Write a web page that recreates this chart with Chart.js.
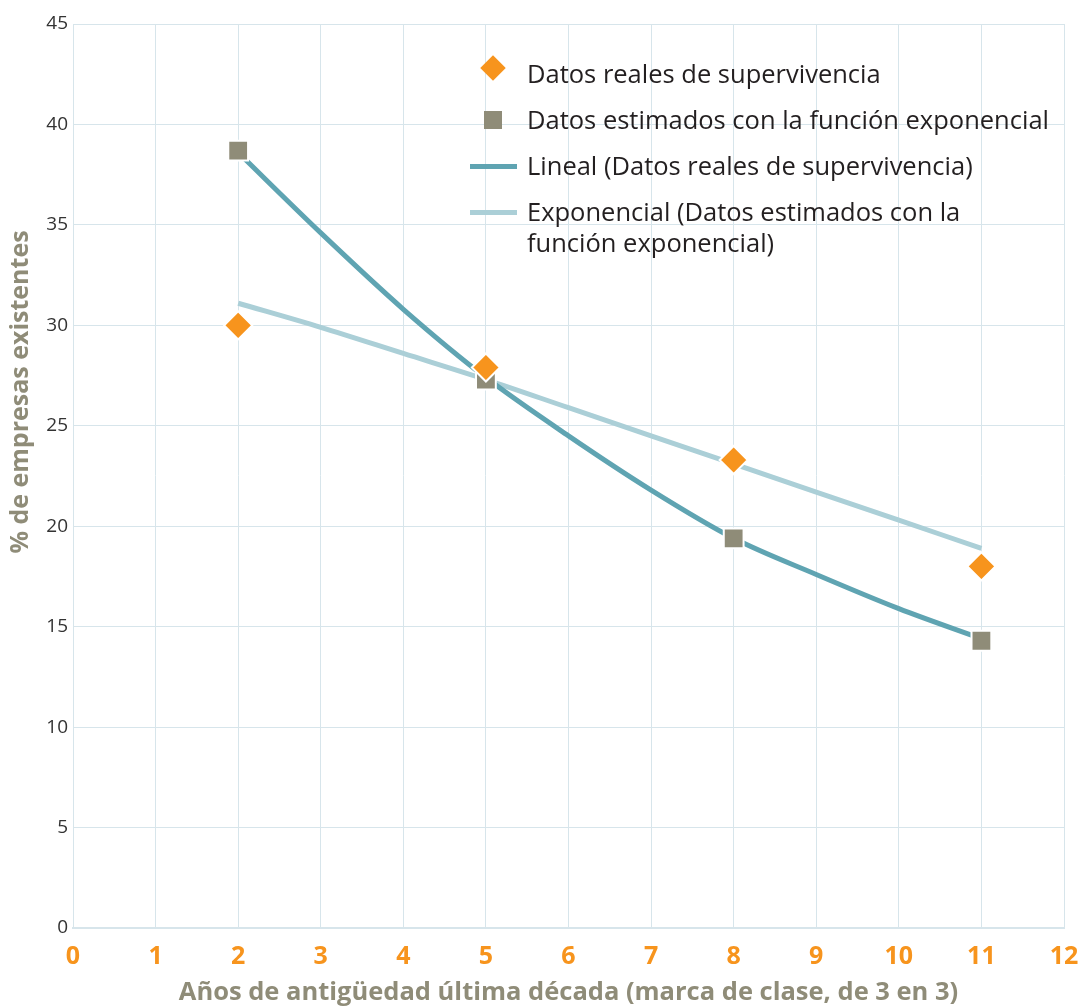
<!DOCTYPE html>
<html lang="es">
<head>
<meta charset="utf-8">
<title>Supervivencia de empresas</title>
<script src="https://cdn.jsdelivr.net/npm/chart.js@4.4.1/dist/chart.umd.min.js"></script>
<style>
  html, body { margin: 0; padding: 0; background: #fff; }
  #wrap { position: relative; width: 1082px; height: 1008px; }
  #legend {
    position: absolute; left: 466px; top: 58px;
    font-family: "Open Sans", Lato, sans-serif; font-size: 25.5px; color: #231f20;
  }
  .item { position: relative; padding-left: 61px; line-height: 31px; margin-bottom: 15px; white-space: nowrap; }
  .item .mk { position: absolute; left: 18px; top: 7px; width: 18px; height: 18px; }
  .item .diamond { top: 1px; background: #f7941d; transform: rotate(45deg); }
  .square { background: #8f8c78; }
  .line { position: absolute; left: 4px; top: 14px; width: 47px; height: 5px; }
</style>
</head>
<body>
<div id="wrap">
  <canvas id="chart" width="1082" height="1008"></canvas>
  <div id="legend">
    <div class="item"><span class="mk diamond"></span>Datos reales de supervivencia</div>
    <div class="item"><span class="mk square"></span>Datos estimados con la función exponencial</div>
    <div class="item"><span class="line" style="background:#5fa4b2"></span>Lineal (Datos reales de supervivencia)</div>
    <div class="item"><span class="line" style="background:#abcfd7"></span>Exponencial (Datos estimados con la<br>función exponencial)</div>
  </div>
</div>
<script>
// ===== DATA =====
const years = [2, 5, 8, 11];
const realValues = [30.0, 27.9, 23.3, 18.0];
const estimatedValues = [38.7, 27.3, 19.4, 14.3];

// trend curves at each year mark
const curveYears = [2, 3, 4, 5, 6, 7, 8, 9, 10, 11];
const darkCurve = [38.6, 34.6, 30.8, 27.4, 24.5, 21.8, 19.4, 17.6, 15.9, 14.4];
const lightCurve = [31.1, 29.9, 28.6, 27.3, 25.9, 24.5, 23.1, 21.7, 20.3, 18.9];

const xTicks = [0, 1, 2, 3, 4, 5, 6, 7, 8, 9, 10, 11, 12];
const yTicks = [0, 5, 10, 15, 20, 25, 30, 35, 40, 45];

const ORANGE = '#f7941d';
const OLIVE = '#8f8c78';
const GRID = '#d7e5eb';
const FONT = '"Open Sans", Lato, sans-serif';

const toPoints = (xs, ys) => xs.map((x, i) => ({ x, y: ys[i] }));

// y axis title, drawn by hand so it can sit above the axis centre like the original
const yTitle = {
  id: 'yTitle',
  afterDraw(chart) {
    const ctx = chart.ctx;
    ctx.save();
    ctx.translate(21, 392);
    ctx.rotate(-Math.PI / 2);
    ctx.font = 'bold 25px ' + FONT;
    ctx.fillStyle = OLIVE;
    ctx.textAlign = 'center';
    ctx.textBaseline = 'middle';
    ctx.fillText('% de empresas existentes', 0, 0);
    ctx.restore();
  }
};

new Chart(document.getElementById('chart'), {
  type: 'scatter',
  data: {
    datasets: [
      {
        label: 'Datos reales de supervivencia',
        data: toPoints(years, realValues),
        pointStyle: 'rectRot',
        pointRadius: 14,
        backgroundColor: ORANGE,
        borderColor: '#fff',
        borderWidth: 2,
        order: 1
      },
      {
        label: 'Datos estimados con la función exponencial',
        data: toPoints(years, estimatedValues),
        pointStyle: 'rect',
        pointRadius: 14,
        backgroundColor: OLIVE,
        borderColor: '#fff',
        borderWidth: 2,
        order: 2
      },
      {
        label: 'Lineal (Datos reales de supervivencia)',
        data: toPoints(curveYears, darkCurve),
        showLine: true,
        pointRadius: 0,
        borderColor: '#5fa4b2',
        borderWidth: 5,
        tension: 0.4,
        cubicInterpolationMode: 'monotone',
        order: 3
      },
      {
        label: 'Exponencial (Datos estimados con la función exponencial)',
        data: toPoints(curveYears, lightCurve),
        showLine: true,
        pointRadius: 0,
        borderColor: '#abcfd7',
        borderWidth: 5,
        tension: 0.4,
        cubicInterpolationMode: 'monotone',
        order: 4
      }
    ]
  },
  options: {
    responsive: false,
    animation: false,
    layout: { padding: { top: 24, right: 18, left: 0, bottom: 0 } },
    plugins: { legend: { display: false }, tooltip: { enabled: false } },
    scales: {
      x: {
        type: 'linear',
        min: 0, max: 12,
        afterBuildTicks: s => { s.ticks = xTicks.map(v => ({ value: v })); },
        afterFit: s => { s.height = 80; s.paddingLeft = 0; s.paddingRight = 0; },
        grid: { color: GRID, drawTicks: false },
        border: { color: GRID, width: 2 },
        ticks: {
          color: ORANGE, padding: 14,
          font: { family: FONT, size: 25, weight: 'bold' }
        },
        title: {
          display: true,
          text: 'Años de antigüedad última década (marca de clase, de 3 en 3)',
          color: OLIVE,
          padding: { top: 0, bottom: 0 },
          font: { family: FONT, size: 25.5, weight: 'bold' }
        }
      },
      y: {
        min: 0, max: 45,
        afterBuildTicks: s => { s.ticks = yTicks.map(v => ({ value: v })); },
        afterFit: s => { s.width = 73; s.paddingTop = 0; s.paddingBottom = 0; },
        grid: { color: GRID, drawTicks: false },
        border: { color: GRID },
        ticks: {
          color: '#333', padding: 5,
          font: { family: FONT, size: 19 }
        }
      }
    }
  },
  plugins: [yTitle]
});
</script>
</body>
</html>
